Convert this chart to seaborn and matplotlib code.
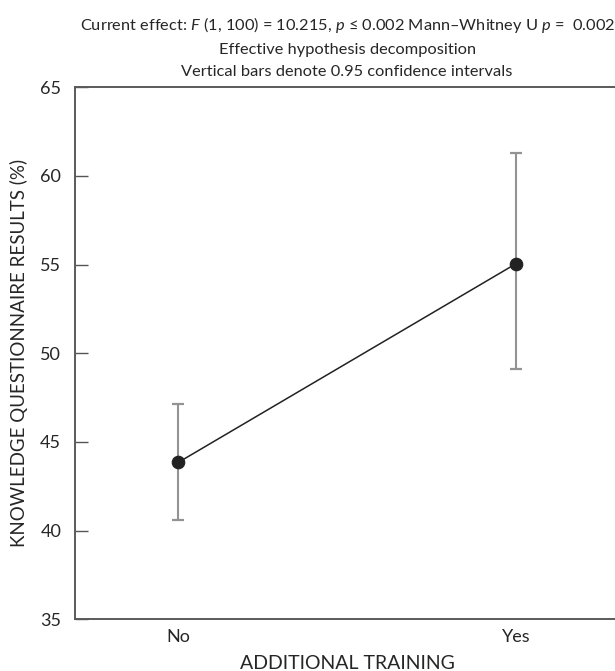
import pandas as pd
import seaborn as sns
import matplotlib.pyplot as plt

# values
groups = ["No", "Yes"]
means = [43.85, 55.05]
ci_low = [40.6, 49.1]
ci_high = [47.15, 61.3]

y_ticks = [35, 40, 45, 50, 55, 60, 65]

title_lines = [
    r"Current effect: $F$ (1, 100) = 10.215, $p$ ≤ 0.002 Mann–Whitney U $p$ =  0.002",
    "Effective hypothesis decomposition",
    "Vertical bars denote 0.95 confidence intervals",
]

df = pd.DataFrame({"training": groups, "score": means})

sns.set_theme(style="ticks")
plt.rcParams["font.family"] = ["Lato", "DejaVu Sans"]
plt.rcParams["mathtext.fontset"] = "custom"
plt.rcParams["mathtext.it"] = "Lato:italic"
plt.rcParams["mathtext.rm"] = "Lato"

fig = plt.figure(figsize=(6.15, 6.71), dpi=100)
# the right edge of the plot box sits just outside the picture, as in the reference
ax = fig.add_axes([0.122, 0.077, 0.885, 0.793])

# error bars first so the markers sit on top
yerr = [[m - lo for m, lo in zip(means, ci_low)],
        [hi - m for m, hi in zip(means, ci_high)]]
ax.errorbar(x=range(len(groups)), y=means, yerr=yerr, fmt="none",
            ecolor="#939393", elinewidth=1.5, capsize=4.5, capthick=1.6, zorder=2)
for cap in ax.lines:
    cap.set_color("#6e6e6e")

sns.pointplot(data=df, x="training", y="score", errorbar=None, color="black",
              markersize=9, linewidth=1.1, ax=ax, zorder=3)
ax.lines[-1].set_color("#222222")

ax.set_xlim(-0.306, 1.306)
ax.set_ylim(35, 65)
ax.set_yticks(y_ticks)
ax.tick_params(axis="y", direction="in", length=9, width=1, color="#555555",
               labelsize=13, pad=10)
ax.tick_params(axis="x", length=0, labelsize=13, pad=7)

for side in ["left", "bottom", "top", "right"]:
    ax.spines[side].set_color("#5a5a5a")
    ax.spines[side].set_linewidth(1.4)

ax.set_xlabel("ADDITIONAL TRAINING", fontsize=14, labelpad=7)
ax.set_ylabel("KNOWLEDGE QUESTIONNAIRE RESULTS (%)", fontsize=13.5, labelpad=9)
ax.set_title("\n".join(title_lines), fontsize=11.8, linespacing=1.72, pad=8)

fig.savefig("out.png", dpi=100)
